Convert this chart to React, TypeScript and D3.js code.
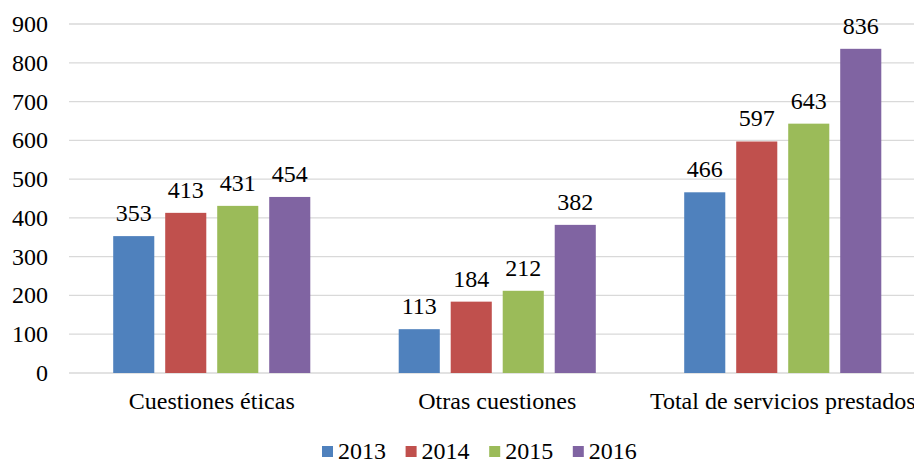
import React from 'react';
import * as d3 from 'd3';

const categories = ['Cuestiones éticas', 'Otras cuestiones', 'Total de servicios prestados'];
const years = ['2013', '2014', '2015', '2016'];
const values2013 = [353, 113, 466];
const values2014 = [413, 184, 597];
const values2015 = [431, 212, 643];
const values2016 = [454, 382, 836];
const yTicks = [0, 100, 200, 300, 400, 500, 600, 700, 800, 900];
const colors = ['#4F81BD', '#C0504D', '#9BBB59', '#8064A2'];

const seriesValues = [values2013, values2014, values2015, values2016];

const width = 914;
const height = 461;
const font = "'Liberation Serif', 'Times New Roman', serif";
const fontSize = 24;

const left = 69;
const plotRight = 925.5;
const top = 24;
const bottom = 373;

const x0 = d3.scaleBand<string>().domain(categories).range([left, plotRight]).padding(0);
const x1 = d3.scaleBand<string>()
  .domain(years)
  .range([0, x0.bandwidth()])
  .paddingInner(0.21)
  .paddingOuter(0.85);
const y = d3.scaleLinear().domain([0, 900]).range([bottom, top]);

const App = () => {
  return (
    <svg
      width={width}
      height={height}
      style={{ position: 'absolute', top: 0, left: 0, background: '#fff', overflow: 'hidden' }}
    >
      {/* gridlines */}
      <g>
        {yTicks.map(t => (
          <line key={t} x1={left} x2={width} y1={y(t)} y2={y(t)} stroke="#D9D9D9" strokeWidth={1.3} />
        ))}
      </g>

      {/* y tick labels */}
      <g>
        {yTicks.map(t => (
          <text key={t} x={48} y={y(t) + 8} textAnchor="end" fill="#000" fontFamily={font} fontSize={fontSize}>{t}</text>
        ))}
      </g>

      {/* bars and value labels */}
      {categories.map((cat, ci) => (
        <g key={cat} transform={`translate(${x0(cat)},0)`}>
          {years.map((yr, si) => {
            const v = seriesValues[si][ci];
            return (
              <g key={yr}>
                <rect x={x1(yr)} width={x1.bandwidth()} y={y(v)} height={bottom - y(v)} fill={colors[si]} />
                <text
                  x={x1(yr)! + x1.bandwidth() / 2}
                  y={y(v) - 15}
                  textAnchor="middle"
                  fill="#000"
                  fontFamily={font}
                  fontSize={fontSize}
                >
                  {v}
                </text>
              </g>
            );
          })}
        </g>
      ))}

      {/* category labels */}
      <g>
        {categories.map(cat => (
          <text key={cat} x={x0(cat)! + x0.bandwidth() / 2} y={409} textAnchor="middle" fill="#000" fontFamily={font} fontSize={fontSize}>
            {cat}
          </text>
        ))}
      </g>

      {/* legend */}
      <g>
        {years.map((yr, i) => (
          <g key={yr} transform={`translate(${322 + i * 83.6},0)`}>
            <rect x={0} y={446} width={11} height={11} fill={colors[i]} />
            <text x={16} y={459} fill="#000" fontFamily={font} fontSize={fontSize}>{yr}</text>
          </g>
        ))}
      </g>
    </svg>
  );
};

export default App;
